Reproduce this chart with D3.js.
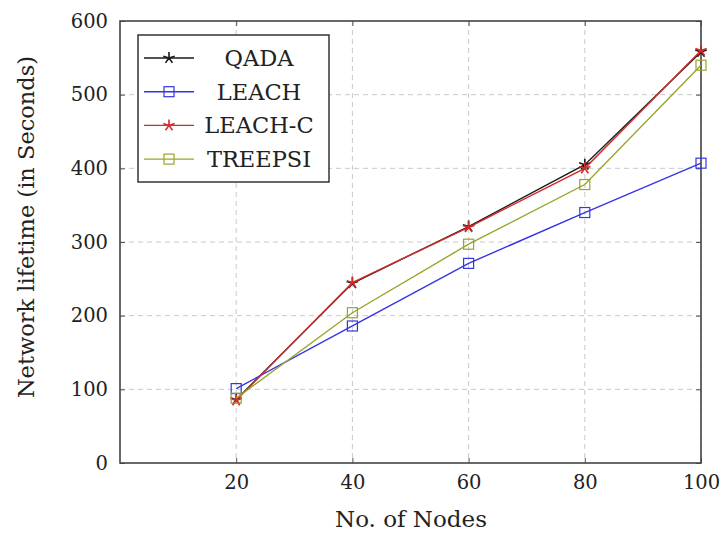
<!DOCTYPE html>
<html lang="en">
<head>
  <meta charset="UTF-8">
  <title>Network lifetime</title>
  <style>
    body { margin: 0; background: #fff; }
    text { font-family: "DejaVu Serif", "Liberation Serif", serif; fill: #222; }
  </style>
</head>
<body>
  <svg width="723" height="537"></svg>
  <script src="https://d3js.org/d3.v7.min.js"></script>
  <script>

  // data
  var nodes = [20, 40, 60, 80, 100];
  var qada = [86, 244, 321, 405, 558];
  var leach = [101, 186, 271, 340, 407];
  var leachC = [85, 245, 320, 400, 560];
  var treepsi = [88, 204, 297, 378, 540];

  var xTicks = [20, 40, 60, 80, 100];
  var yTicks = [0, 100, 200, 300, 400, 500, 600];

  var series = [
    { name: 'QADA', values: qada, color: '#1a1a1a', mark: 'star' },
    { name: 'LEACH', values: leach, color: '#3535e6', mark: 'square' },
    { name: 'LEACH-C', values: leachC, color: '#d42a2a', mark: 'star' },
    { name: 'TREEPSI', values: treepsi, color: '#9aa42a', mark: 'square' }
  ];

  var svg = d3.select('svg');

  var pLeft = 120, pRight = 701, pTop = 21, pBottom = 463;

  var x = d3.scaleLinear().domain([0, 100]).range([pLeft, pRight]);
  var y = d3.scaleLinear().domain([0, 600]).range([pBottom, pTop]);

  // grid
  var grid = svg.append('g').attr('stroke', '#c9c9c9').attr('stroke-dasharray', '5,4').attr('stroke-width', 1);
  grid.selectAll('.gx').data(xTicks).enter().append('line')
    .attr('x1', function(d) { return x(d); }).attr('x2', function(d) { return x(d); })
    .attr('y1', pTop).attr('y2', pBottom);
  grid.selectAll('.gy').data(yTicks.slice(1, -1)).enter().append('line')
    .attr('y1', function(d) { return y(d); }).attr('y2', function(d) { return y(d); })
    .attr('x1', pLeft).attr('x2', pRight);

  // axes with inward ticks, mirrored
  var tl = 5;
  svg.append('g').attr('transform', 'translate(0,' + pBottom + ')')
    .call(d3.axisBottom(x).tickValues(xTicks).tickSizeInner(-tl).tickSizeOuter(0).tickPadding(12))
    .call(function(g) { g.select('.domain').remove(); });
  svg.append('g').attr('transform', 'translate(0,' + pTop + ')')
    .call(d3.axisTop(x).tickValues(xTicks).tickSizeInner(-tl).tickSizeOuter(0).tickFormat(''))
    .call(function(g) { g.select('.domain').remove(); });
  svg.append('g').attr('transform', 'translate(' + pLeft + ',0)')
    .call(d3.axisLeft(y).tickValues(yTicks).tickSizeInner(-tl).tickSizeOuter(0).tickPadding(12))
    .call(function(g) { g.select('.domain').remove(); });
  svg.append('g').attr('transform', 'translate(' + pRight + ',0)')
    .call(d3.axisRight(y).tickValues(yTicks).tickSizeInner(-tl).tickSizeOuter(0).tickFormat(''))
    .call(function(g) { g.select('.domain').remove(); });

  svg.selectAll('.tick line').attr('stroke', '#555');
  svg.selectAll('.tick text')
    .style('font-family', '"DejaVu Serif", serif').style('font-size', '19.5px').attr('fill', '#222');

  // frame
  svg.append('rect')
    .attr('x', pLeft).attr('y', pTop).attr('width', pRight - pLeft).attr('height', pBottom - pTop)
    .attr('fill', 'none').attr('stroke', '#444').attr('stroke-width', 1.6);

  // markers
  function starPath(r) {
    var p = '';
    for (var i = 0; i < 5; i++) {
      var a = -Math.PI / 2 + i * 2 * Math.PI / 5;
      p += 'M0,0L' + (r * Math.cos(a)).toFixed(2) + ',' + (r * Math.sin(a)).toFixed(2);
    }
    return p;
  }
  function drawMark(g, s) {
    if (s.mark === 'star') {
      g.append('path').attr('d', starPath(6)).attr('stroke', s.color).attr('stroke-width', 1.6).attr('fill', 'none');
    } else {
      g.append('rect').attr('x', -5).attr('y', -5).attr('width', 10).attr('height', 10)
        .attr('fill', 'none').attr('stroke', s.color).attr('stroke-width', 1.2);
    }
  }

  var line = d3.line()
    .x(function(d, i) { return x(nodes[i]); })
    .y(function(d) { return y(d); });

  series.forEach(function(s) {
    svg.append('path').datum(s.values)
      .attr('d', line).attr('fill', 'none')
      .attr('stroke', s.color).attr('stroke-width', 1.4);
    s.values.forEach(function(v, i) {
      var g = svg.append('g').attr('transform', 'translate(' + x(nodes[i]) + ',' + y(v) + ')');
      drawMark(g, s);
    });
  });

  // legend
  var lg = svg.append('g');
  lg.append('rect').attr('x', 138).attr('y', 35).attr('width', 191).attr('height', 147)
    .attr('fill', '#fff').attr('stroke', '#333').attr('stroke-width', 1.5);
  series.forEach(function(s, i) {
    var cy = 58 + i * 33.7;
    lg.append('line').attr('x1', 144).attr('x2', 194).attr('y1', cy).attr('y2', cy)
      .attr('stroke', s.color).attr('stroke-width', 1.4);
    var g = lg.append('g').attr('transform', 'translate(169,' + cy + ')');
    drawMark(g, s);
    lg.append('text').attr('x', 259).attr('y', cy + 8)
      .attr('text-anchor', 'middle').style('font-size', '22.5px').text(s.name);
  });

  // axis titles
  svg.append('text').attr('x', 411).attr('y', 527)
    .attr('text-anchor', 'middle').style('font-size', '23px').text('No. of Nodes');
  svg.append('text')
    .attr('transform', 'translate(34,227) rotate(-90)')
    .attr('text-anchor', 'middle').style('font-size', '22.5px').text('Network lifetime (in Seconds)');

  </script>
</body>
</html>
